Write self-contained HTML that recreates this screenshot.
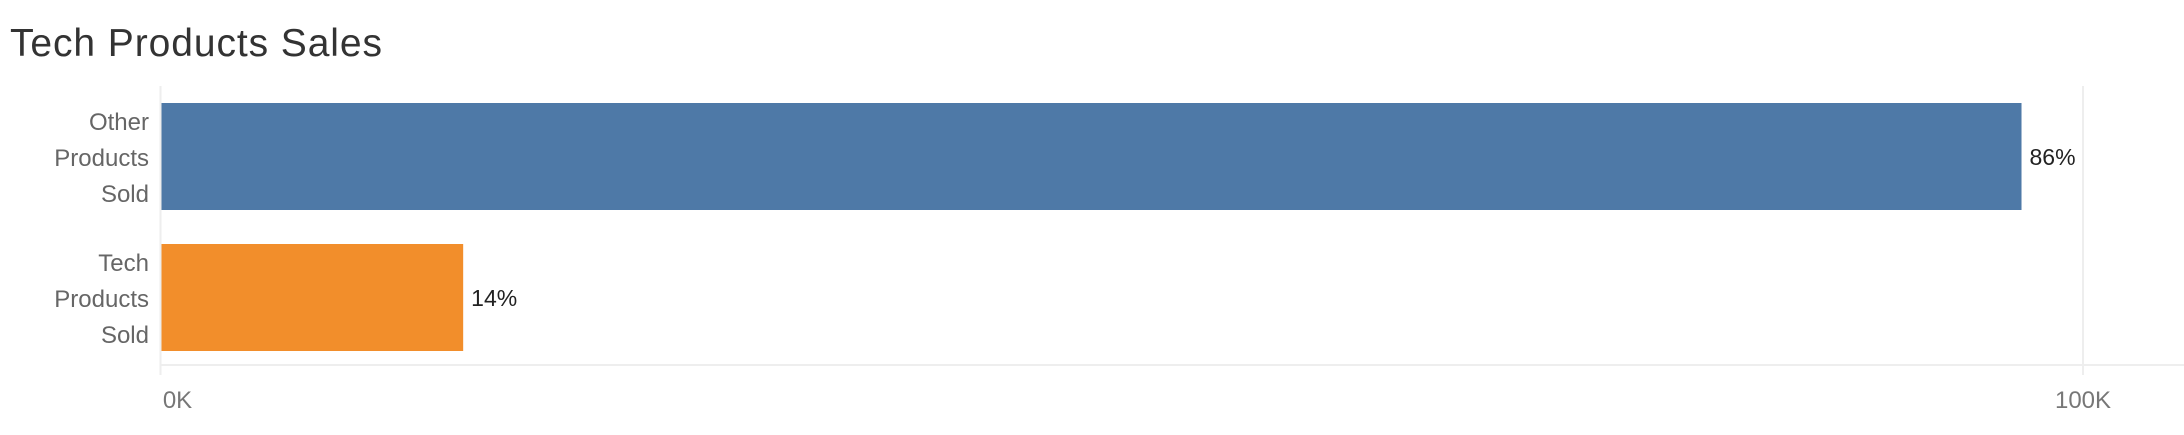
<!DOCTYPE html>
<html><head><meta charset="utf-8"><style>
body{margin:0;background:#fff;width:2184px;height:430px;overflow:hidden;font-family:"Liberation Sans",sans-serif}
</style></head><body>
<svg width="2184" height="430">
<text x="10" y="56" font-size="39" fill="#333" textLength="372">Tech Products Sales</text>
<g id="plot"></g>
</svg>
<script>
const categories=[["Other","Products","Sold"],["Tech","Products","Sold"]];
const values=[96.8,15.7];
const valueLabels=["86%","14%"];
const colors=["#4e79a7","#f28e2b"];
const ticks=[0,100];
const tickLabels=["0K","100K"];
const NS="http://www.w3.org/2000/svg";
const g=document.getElementById('plot');
const x0=161.5,x1=2083,xMax=100;
const xs=v=>x0+(v/xMax)*(x1-x0);
const bandTop=[103,244],bandH=107;
function el(t,a,txt){const e=document.createElementNS(NS,t);for(const k in a)e.setAttribute(k,a[k]);if(txt!=null)e.textContent=txt;g.appendChild(e);return e;}
let l=el('line',{x1:160.5,y1:86,x2:160.5,y2:375,stroke:'#eee','stroke-width':2});


ticks.forEach((t,i)=>{
 if(i>0){const gl=el('line',{x1:xs(t),y1:86,x2:xs(t),y2:375,stroke:'#eee','stroke-width':2});
 
 }
 const tx=el('text',{x:i==0?xs(t)+16:xs(t),y:408,'font-size':24,fill:'#777','text-anchor':'middle'},tickLabels[i]);
 
 
});
let ax=el('line',{x1:160,y1:365,x2:2184,y2:365,stroke:'#eee','stroke-width':2});


values.forEach((v,i)=>{
 const r=el('rect',{x:x0,y:bandTop[i],width:xs(v)-x0,height:bandH,fill:colors[i]});
 
 
 const vl=el('text',{x:xs(v)+8,y:bandTop[i]+62,'font-size':23,fill:'#222'},valueLabels[i]);
 
 
 categories[i].forEach((w,j)=>{
  const c=el('text',{x:149,y:bandTop[i]+27+j*36,'font-size':24,fill:'#666','text-anchor':'end'},w);
  
  
 });
});
</script>
</body></html>
